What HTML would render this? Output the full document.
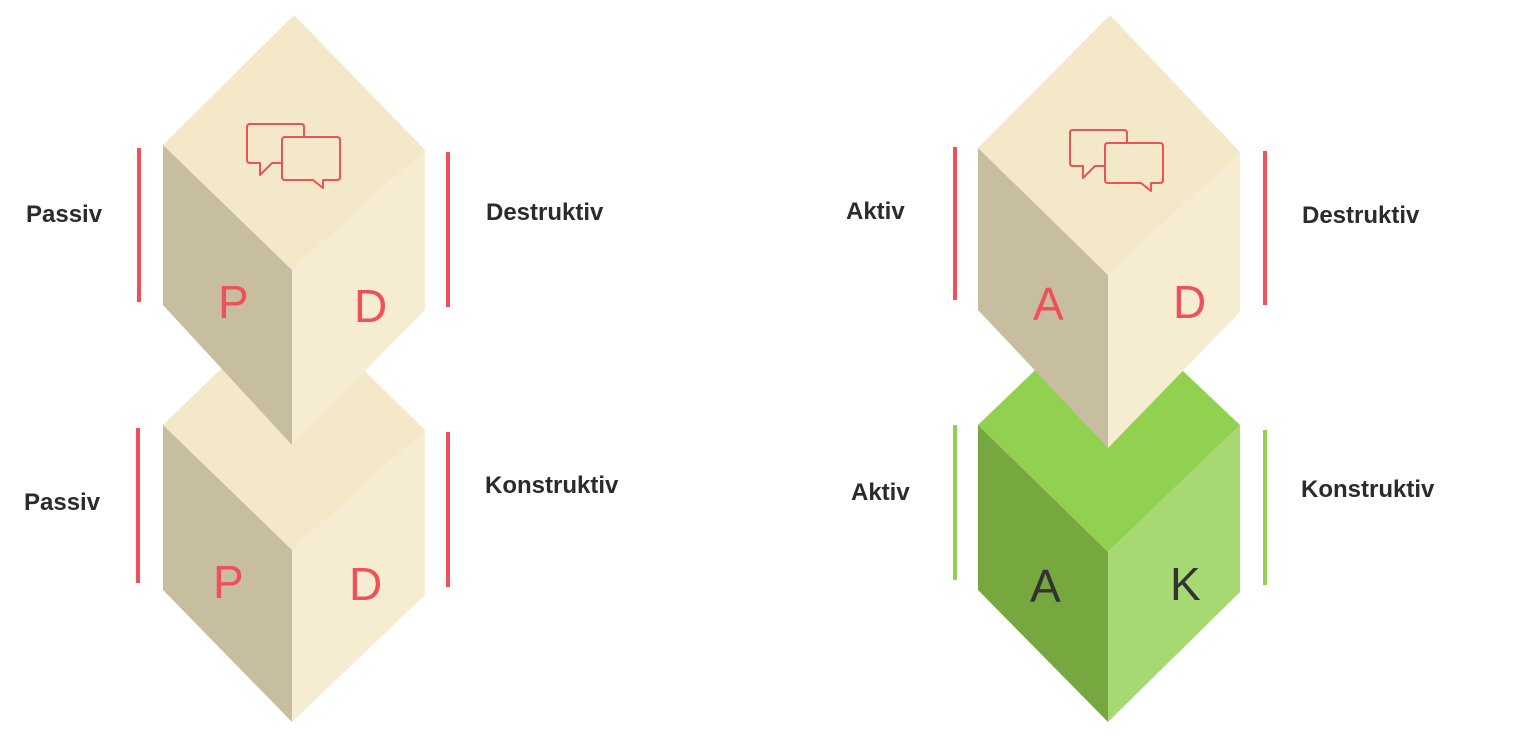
<!DOCTYPE html>
<html><head><meta charset="utf-8"><style>
html,body{margin:0;padding:0;background:#fff;}
svg{display:block}
text.l{font-family:"Liberation Sans",sans-serif;font-weight:bold;font-size:24px;fill:#2b2b2b}
</style></head><body>
<svg width="1514" height="750" viewBox="0 0 1514 750" xmlns="http://www.w3.org/2000/svg">
<polygon points="292,300 163,425 292,550 425,430" fill="#f3e8c8"/>
<polygon points="163,425 292,550 292,722 163,590" fill="#c7bea0"/>
<polygon points="292,550 425,430 425,595 292,722" fill="#f6ecd2"/>
<polygon points="294,15 163,145 292,270 425,150" fill="#f3e8c8"/>
<polygon points="163,145 292,270 292,445 163,305" fill="#c7bea0"/>
<polygon points="292,270 425,150 425,310 292,445" fill="#f6ecd2"/>
<polygon points="1108,300 978,425 1108,552 1240,425" fill="#92d050"/>
<polygon points="978,425 1108,552 1108,722 978,590" fill="#76a83f"/>
<polygon points="1108,552 1240,425 1240,592 1108,722" fill="#a6d971"/>
<polygon points="1110,15 978,148 1108,275 1240,152" fill="#f3e8c8"/>
<polygon points="978,148 1108,275 1108,448 978,310" fill="#c7bea0"/>
<polygon points="1108,275 1240,152 1240,312 1108,448" fill="#f6ecd2"/>
<g stroke="#f0505a" stroke-width="2" stroke-linejoin="round" fill="#f3e8c8">
<path d="M250,124 H301 Q304,124 304,127 V160 Q304,163 301,163 H272 L260,175 V163 H250 Q247,163 247,160 V127 Q247,124 250,124 Z"/>
<path d="M285,137 H337 Q340,137 340,140 V177 Q340,180 337,180 H323 V188 L313,180 H285 Q282,180 282,177 V140 Q282,137 285,137 Z"/>
<path d="M1073,130 H1124 Q1127,130 1127,133 V163 Q1127,166 1124,166 H1095 L1083,178 V166 H1073 Q1070,166 1070,163 V133 Q1070,130 1073,130 Z"/>
<path d="M1108,143 H1160 Q1163,143 1163,146 V180 Q1163,183 1160,183 H1151 V191 L1141,183 H1108 Q1105,183 1105,180 V146 Q1105,143 1108,143 Z"/>
</g>
<g fill="#f0505a">
<rect x="137" y="148" width="4" height="154"/>
<rect x="446" y="152" width="4" height="155"/>
<rect x="136" y="428" width="4" height="155"/>
<rect x="446" y="432" width="4" height="155"/>
<rect x="953" y="147" width="4" height="153"/>
<rect x="1263" y="151" width="4" height="154"/>
</g>
<g fill="#92d050">
<rect x="953" y="425" width="4" height="155"/>
<rect x="1263" y="430" width="4" height="155"/>
</g>
<g font-family="Liberation Sans Narrow,Liberation Sans,sans-serif" font-size="46" fill="#f0505a">
<text x="218" y="318">P</text>
<text x="354" y="322">D</text>
<text x="213" y="598">P</text>
<text x="349" y="600">D</text>
<text x="1033" y="320">A</text>
<text x="1173" y="318">D</text>
</g>
<g font-family="Liberation Sans Narrow,Liberation Sans,sans-serif" font-size="46" fill="#333">
<text x="1030" y="602">A</text>
<text x="1170" y="600">K</text>
</g>
<text class="l" x="26" y="222">Passiv</text>
<text class="l" x="486" y="220">Destruktiv</text>
<text class="l" x="24" y="510">Passiv</text>
<text class="l" x="485" y="493">Konstruktiv</text>
<text class="l" x="846" y="219">Aktiv</text>
<text class="l" x="1302" y="223">Destruktiv</text>
<text class="l" x="851" y="500">Aktiv</text>
<text class="l" x="1301" y="497">Konstruktiv</text>
</svg>
</body></html>
